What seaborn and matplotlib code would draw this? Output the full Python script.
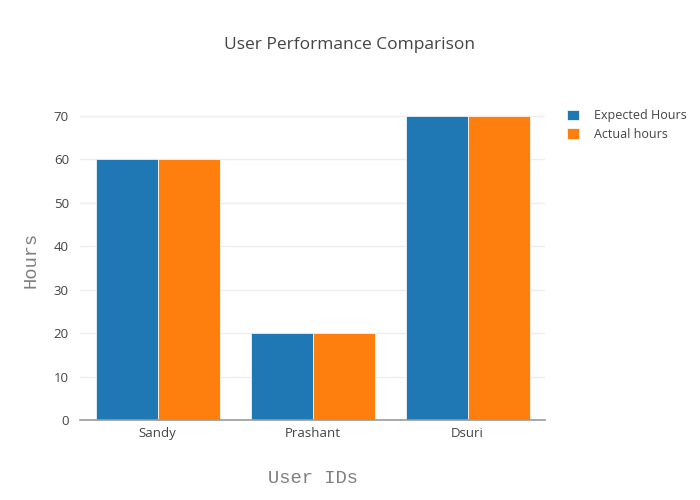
import matplotlib
matplotlib.use("Agg")
import matplotlib.pyplot as plt
import seaborn as sns
import pandas as pd
from matplotlib.patches import Patch

users = ["Sandy", "Prashant", "Dsuri"]
expected_hours = [60, 20, 70]
actual_hours = [60, 20, 70]
series_names = ["Expected Hours", "Actual hours"]
colors = ["#1f77b4", "#ff7f0e"]
yticks = [0, 10, 20, 30, 40, 50, 60, 70]

df = pd.DataFrame({
    "user": users * 2,
    "hours": expected_hours + actual_hours,
    "series": [series_names[0]] * 3 + [series_names[1]] * 3,
})

sns.set_style("white")
plt.rcParams["font.family"] = ["Open Sans", "DejaVu Sans"]

fig = plt.figure(figsize=(7, 5), dpi=100)
ax = fig.add_axes([80 / 700, 80 / 500, 465 / 700, 320 / 500])

sns.barplot(data=df, x="user", y="hours", hue="series", palette=colors,
            order=users, hue_order=series_names, width=0.8,
            edgecolor="white", linewidth=0.5, ax=ax, legend=False, saturation=1)

ax.set_xlim(-0.5, 2.5)
ax.set_ylim(0, 73.68)
ax.set_yticks(yticks)
ax.set_yticklabels([str(v) for v in yticks])
ax.yaxis.grid(True, color="#eeeeee", linewidth=1)
ax.set_axisbelow(True)
for s in ["top", "right", "left"]:
    ax.spines[s].set_visible(False)
ax.spines["bottom"].set_color("#9a9a9a")
ax.spines["bottom"].set_linewidth(1.2)
ax.tick_params(axis="both", colors="#444444", labelsize=9.5, length=0, pad=5)
ax.tick_params(axis="y", pad=8)

ax.set_xlabel("User IDs", family="Liberation Mono", fontsize=13.5, color="#7f7f7f", labelpad=21.5)
ax.set_ylabel("Hours", family="Liberation Mono", fontsize=13.5, color="#7f7f7f", labelpad=10)

fig.text(350 / 700, 1 - 45 / 500, "User Performance Comparison", ha="center", va="center",
         fontsize=12.5, color="#444444")

handles = [Patch(facecolor=c, edgecolor="white", linewidth=0.5) for c in colors]
fig.legend(handles, series_names, loc="upper left", bbox_to_anchor=(556 / 700, 1 - 98 / 500),
           frameon=False, fontsize=9, handlelength=0.95, handleheight=0.95, handletextpad=1.2,
           labelspacing=0.45, labelcolor="#444444")

fig.savefig("out.png", dpi=100)
